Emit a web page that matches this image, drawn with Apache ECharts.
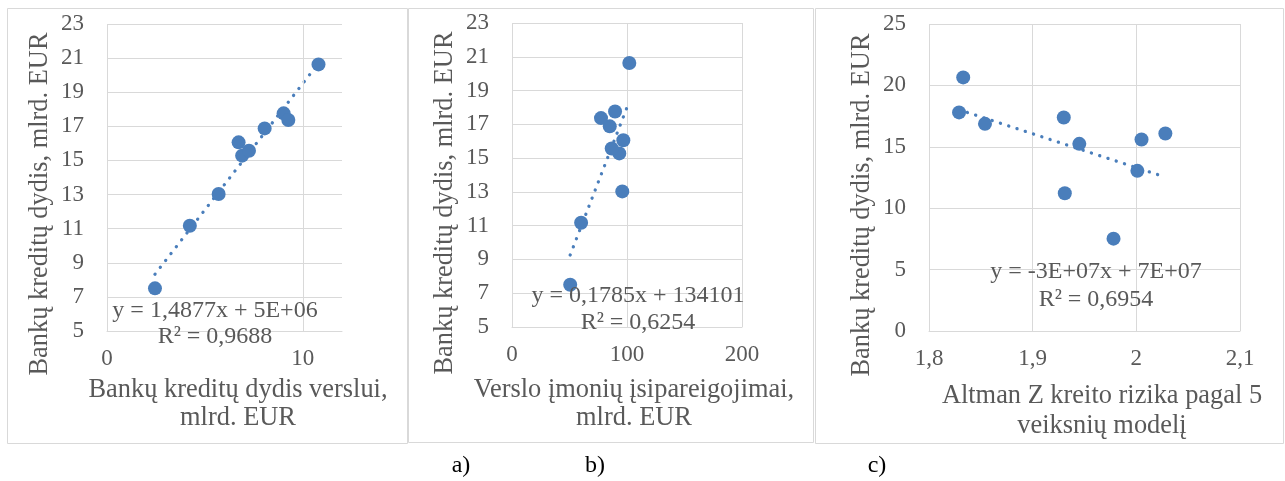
<!DOCTYPE html>
<html>
<head>
<meta charset="utf-8">
<script src="https://cdn.jsdelivr.net/npm/echarts@6/dist/echarts.min.js"></script>
<style>
  html, body { margin: 0; padding: 0; background: #fff; }
  #chart { width: 1285px; height: 481px; }
</style>
</head>
<body>
<div id="chart"></div>
<script>
// Bank credit to business (mlrd. EUR) – shared y values for panels a and b
const bankCredit = [7.5, 11.17, 13.03, 16.06, 15.28, 15.57, 16.88, 17.76, 17.37, 20.63];

// a) bank credit to business, mlrd. EUR
const xCreditBusiness = [2.45, 4.23, 5.7, 6.72, 6.9, 7.25, 8.05, 9.02, 9.26, 10.8];
// b) business liabilities, mlrd. EUR
const xLiabilities = [50.6, 60.1, 95.9, 96.8, 93.3, 86.7, 85.0, 89.6, 77.4, 102.0];
// c) Altman Z credit risk (5-factor model)
const yCreditC = [20.65, 17.8, 16.87, 17.39, 15.24, 11.22, 7.52, 13.04, 15.59, 16.08];
const xAltmanZ = [1.833, 1.829, 1.854, 1.930, 1.945, 1.931, 1.978, 2.001, 2.005, 2.028];

const equationsA = ['y = 1,4877x + 5E+06', 'R² = 0,9688'];
const equationsB = ['y = 0,1785x + 134101', 'R² = 0,6254'];
const equationsC = ['y = -3E+07x + 7E+07', 'R² = 0,6954'];

const yTitle = 'Bankų kreditų dydis, mlrd. EUR';
const xTitlesA = ['Bankų kreditų dydis verslui,', 'mlrd. EUR'];
const xTitlesB = ['Verslo įmonių įsipareigojimai,', 'mlrd. EUR'];
const xTitlesC = ['Altman Z kreito rizika pagal 5', 'veiksnių modelį'];
const panelLabels = ['a)', 'b)', 'c)'];

const BLUE = '#4a7ebb';
const GRID = '#d9d9d9';
const TEXT = '#595959';
const SERIF = '"Liberation Serif", "Times New Roman", serif';

function pairs(xs, ys) { return xs.map((x, i) => [x, ys[i]]); }

// least-squares linear trend over the data range
function trend(xs, ys) {
  const n = xs.length;
  const mx = xs.reduce((a, b) => a + b, 0) / n;
  const my = ys.reduce((a, b) => a + b, 0) / n;
  let sxy = 0, sxx = 0;
  for (let i = 0; i < n; i++) { sxy += (xs[i] - mx) * (ys[i] - my); sxx += (xs[i] - mx) ** 2; }
  const k = sxy / sxx, b = my - k * mx;
  const x0 = Math.min(...xs), x1 = Math.max(...xs);
  return [[x0, k * x0 + b], [x1, k * x1 + b]];
}

const tickLabel = { color: TEXT, fontFamily: SERIF, fontSize: 23 };

function xAxis(idx, min, max, interval, fmt, extra) {
  return Object.assign({
    type: 'value', gridIndex: idx, min, max, interval,
    axisLine: { show: true, lineStyle: { color: GRID, width: 1 } },
    axisTick: { show: false },
    axisLabel: Object.assign({ margin: 16, formatter: fmt }, tickLabel),
    splitLine: { show: true, lineStyle: { color: GRID, width: 1 } }
  }, extra || {});
}
function yAxis(idx, min, max, interval) {
  return {
    type: 'value', gridIndex: idx, min, max, interval,
    axisLine: { show: false }, axisTick: { show: false },
    axisLabel: Object.assign({ margin: 23 }, tickLabel),
    splitLine: { show: true, lineStyle: { color: GRID, width: 1 } }
  };
}

function scatter(idx, data) {
  return {
    type: 'scatter', xAxisIndex: idx, yAxisIndex: idx, data,
    symbolSize: 14, itemStyle: { color: BLUE, opacity: 1 }, z: 3, silent: true
  };
}
function trendLine(idx, data) {
  return {
    type: 'line', xAxisIndex: idx, yAxisIndex: idx, data,
    showSymbol: false, silent: true, z: 2,
    lineStyle: { color: BLUE, width: 3.3, type: [0.1, 8.6], cap: 'round' }
  };
}

function text(x, y, str, size, color, rot) {
  const el = {
    type: 'text', x, y, z: 100, silent: true,
    style: { text: str, fill: color || TEXT, font: size + 'px ' + SERIF, align: 'center', verticalAlign: 'middle' }
  };
  if (rot) el.rotation = rot;
  return el;
}
function box(x, y, w, h) {
  return { type: 'rect', shape: { x, y, width: w, height: h }, z: -1, silent: true,
    style: { fill: 'none', stroke: GRID, lineWidth: 1 } };
}

const decComma = v => String(+(+v).toFixed(1)).replace('.', ',');

const chart = echarts.init(document.getElementById('chart'), null, { renderer: 'canvas' });
chart.setOption({
  animation: false,
  backgroundColor: '#fff',
  grid: [
    { left: 107, top: 24, width: 235, height: 307 },
    { left: 512, top: 23, width: 230, height: 304 },
    { left: 929, top: 24, width: 311, height: 307 }
  ],
  xAxis: [
    xAxis(0, 0, 12, 10, v => (v === 12 ? '' : String(v)), { splitLine: { show: false } }),
    xAxis(1, 0, 200, 100, v => String(v)),
    xAxis(2, 1.8, 2.1, 0.1, decComma)
  ],
  yAxis: [yAxis(0, 5, 23, 2), yAxis(1, 5, 23, 2), yAxis(2, 0, 25, 5)],
  series: [
    trendLine(0, trend(xCreditBusiness, bankCredit)),
    scatter(0, pairs(xCreditBusiness, bankCredit)),
    {
      // vertical gridlines of panel a at the labelled ticks only
      type: 'scatter', xAxisIndex: 0, yAxisIndex: 0, data: [], z: 1, silent: true,
      markLine: {
        silent: true, symbol: 'none', label: { show: false },
        lineStyle: { color: GRID, width: 1, type: 'solid' },
        data: [{ xAxis: 0 }, { xAxis: 10 }]
      }
    },
    trendLine(1, trend(xLiabilities, bankCredit)),
    scatter(1, pairs(xLiabilities, bankCredit)),
    trendLine(2, trend(xAltmanZ, yCreditC)),
    scatter(2, pairs(xAltmanZ, yCreditC))
  ],
  graphic: [
    box(7.5, 8.5, 400, 435),
    box(408.5, 8.5, 405, 434),
    box(815.5, 8.5, 468, 435),

    text(40, 204, yTitle, 26.4, TEXT, Math.PI / 2),
    text(445, 203, yTitle, 26.4, TEXT, Math.PI / 2),
    text(862, 205, yTitle, 26.4, TEXT, Math.PI / 2),

    text(238, 390, xTitlesA[0], 26.4), text(238, 418, xTitlesA[1], 26.4),
    text(634, 390, xTitlesB[0], 26.4), text(634, 418, xTitlesB[1], 26.4),
    text(1102, 396, xTitlesC[0], 26.4), text(1102, 426, xTitlesC[1], 26.4),

    text(215, 311, equationsA[0], 24), text(215, 337, equationsA[1], 24),
    text(638, 296, equationsB[0], 24), text(638, 323, equationsB[1], 24),
    text(1096, 272, equationsC[0], 24), text(1096, 300, equationsC[1], 24),

    text(461, 466, panelLabels[0], 24, '#000'),
    text(595, 466, panelLabels[1], 24, '#000'),
    text(877, 466, panelLabels[2], 24, '#000')
  ]
});
</script>
</body>
</html>
